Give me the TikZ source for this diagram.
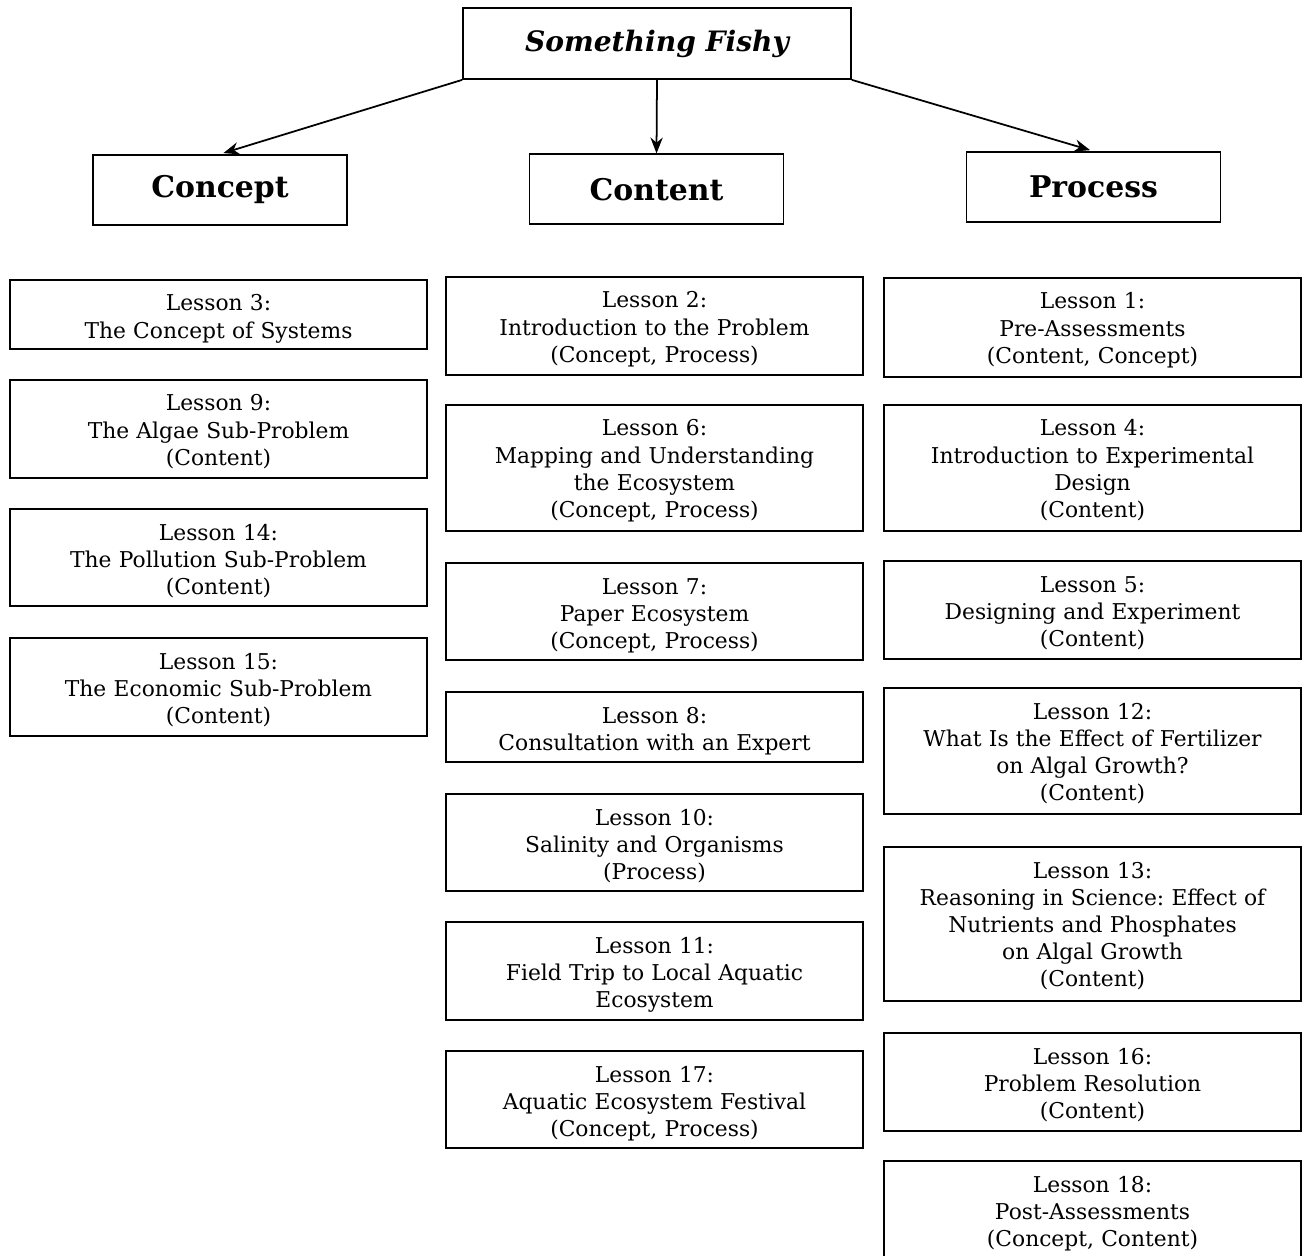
\documentclass[tikz,border=0pt]{standalone}
\usepackage{fontspec}
\setmainfont{DejaVu Serif}
\frenchspacing
\usetikzlibrary{positioning, arrows.meta}

\tikzset{
    lesson/.style={rectangle, draw, line width=1pt, align=center, text width=8.34cm, inner sep=0pt, text height=0.62cm, font=\fontsize{12.4}{15.4}\selectfont},
    head/.style={rectangle, draw, line width=1pt, minimum width=5.08cm, minimum height=1.4cm, font=\fontsize{17}{20}\selectfont\bfseries},
    link/.style={-{Stealth[length=9pt, width=7pt]}, line width=1pt},
}

\begin{document}
\begin{tikzpicture}
    \useasboundingbox (0,0) rectangle (26.12,-25.1);

    % top of the tree
    \node[head, minimum width=7.76cm, minimum height=1.42cm, font=\fontsize{16}{20}\selectfont\bfseries\itshape] (title) at (13.14, -0.87) {Something Fishy};
    \node[head] (concept) at (4.40, -3.80) {Concept};
    \node[head] (content) at (13.13, -3.785) {Content};
    \node[head] (process) at (21.87, -3.74) {Process};

    \draw[link, shorten >=2pt] (title.south west) -- (concept.north);
    \draw[link] (title.south) -- (content.north);
    \draw[link, shorten >=2pt] (title.south east) -- (process.north);

    % concept column
    \foreach \name/\ytop/\hgt/\txt in {
        l3/279/69/{Lesson 3:\\The Concept of Systems},
        l9/379/98/{Lesson 9:\\The Algae Sub-Problem\\(Content)},
        l14/508/97/{Lesson 14:\\The Pollution Sub-Problem\\(Content)},
        l15/637/98/{Lesson 15:\\The Economic Sub-Problem\\(Content)}} {
        \pgfmathsetlengthmacro\dep{\hgt*0.02cm-0.62cm}
        \node[lesson, text depth=\dep, anchor=north] (\name) at (4.37, -\ytop*0.02) {\txt};
    }

    % content column
    \foreach \name/\ytop/\hgt/\txt in {
        l2/276/98/{Lesson 2:\\Introduction to the Problem\\(Concept, Process)},
        l6/404/126/{Lesson 6:\\Mapping and Understanding\\the Ecosystem\\(Concept, Process)},
        l7/562/97/{Lesson 7:\\Paper Ecosystem\\(Concept, Process)},
        l8/691/70/{Lesson 8:\\Consultation with an Expert},
        l10/793/97/{Lesson 10:\\Salinity and Organisms\\(Process)},
        l11/921/98/{Lesson 11:\\Field Trip to Local Aquatic\\Ecosystem},
        l17/1050/97/{Lesson 17:\\Aquatic Ecosystem Festival\\(Concept, Process)}} {
        \pgfmathsetlengthmacro\dep{\hgt*0.02cm-0.62cm}
        \node[lesson, text depth=\dep, anchor=north] (\name) at (13.09, -\ytop*0.02) {\txt};
    }

    % process column
    \foreach \name/\ytop/\hgt/\txt in {
        l1/277/99/{Lesson 1:\\Pre-Assessments\\(Content, Concept)},
        l4/404/126/{Lesson 4:\\Introduction to Experimental\\Design\\(Content)},
        l5/560/98/{Lesson 5:\\Designing and Experiment\\(Content)},
        l12/687/126/{Lesson 12:\\What Is the Effect of Fertilizer\\on Algal Growth?\\(Content)},
        l13/846/154/{Lesson 13:\\Reasoning in Science: Effect of\\Nutrients and Phosphates\\on Algal Growth\\(Content)},
        l16/1032/98/{Lesson 16:\\Problem Resolution\\(Content)},
        l18/1160/120/{Lesson 18:\\Post-Assessments\\(Concept, Content)}} {
        \pgfmathsetlengthmacro\dep{\hgt*0.02cm-0.62cm}
        \node[lesson, text depth=\dep, anchor=north] (\name) at (21.85, -\ytop*0.02) {\txt};
    }
\end{tikzpicture}
\end{document}
